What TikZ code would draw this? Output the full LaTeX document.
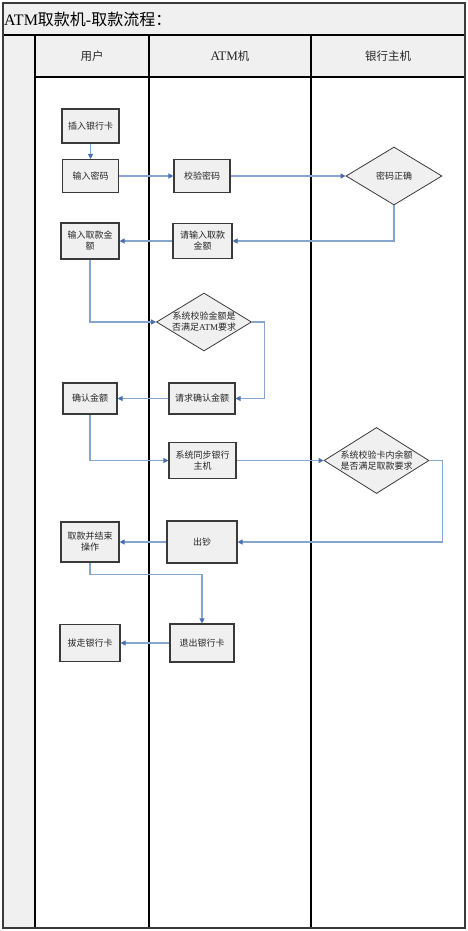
\documentclass[tikz,border=0pt]{standalone}
\usepackage{fontspec}
\setmainfont{Liberation Serif}
\newfontfamily\cjk{Noto Sans CJK SC}
\usetikzlibrary{arrows.meta,shapes.geometric}
\definecolor{panel}{HTML}{F0F0F0}
\definecolor{boxline}{HTML}{3A3A3A}
\definecolor{conn}{HTML}{86A6CF}
\definecolor{tipc}{HTML}{4A6FAE}
\definecolor{txt}{HTML}{262626}
\tikzset{
  stepbox/.style={draw=boxline, line width=1.1pt, fill=panel, align=center, text=txt,
    font=\fontsize{9}{11}\selectfont\cjk, inner sep=1pt},
  decbox/.style={diamond, draw=boxline, line width=0.8pt, fill=panel, inner sep=0pt},
  dectext/.style={align=center, text=txt, font=\fontsize{9}{11}\selectfont\cjk, inner sep=0pt},
  flow/.style={draw=conn, line width=1.1pt, -{Triangle[length=5pt,width=5pt,color=tipc]}},
  lane/.style={draw=black, line width=1.1pt},
  lanetitle/.style={font=\fontsize{11.5}{13}\selectfont, text=txt, inner sep=0pt}
}
\begin{document}
\begin{tikzpicture}[x=1pt,y=-1pt]
\useasboundingbox (0,0) rectangle (468,931);
% panels
\fill[panel] (3,3) rectangle (465,35);
\fill[panel] (35,35) rectangle (465,77);
\fill[panel] (3,35) rectangle (35,928);
% grid lines
\draw[lane] (3,35) -- (465,35);
\draw[lane] (35,77) -- (465,77);
\draw[lane] (35,35) -- (35,928);
\draw[lane] (149,35) -- (149,928);
\draw[lane] (311,35) -- (311,928);
\draw[draw=boxline, line width=1.6pt] (3,3) rectangle (465,928);
% titles
\node[anchor=west, inner sep=0pt, font=\fontsize{16}{18}\selectfont] (title) at (4,19) {ATM{\cjk 取款机}-{\cjk 取款流程：}};
\node[lanetitle] (l1) at (92,56) {\cjk 用户};
\node[lanetitle] (l2) at (230,56) {{\fontsize{13}{15}\selectfont ATM}{\cjk 机}};
\node[lanetitle] (l3) at (388,56) {\cjk 银行主机};
% user lane
\node[stepbox, minimum width=57pt, minimum height=34pt] (a1) at (90.5,126) {插入银行卡};
\node[stepbox, minimum width=56pt, minimum height=33pt] (a2) at (90.5,176) {输入密码};
\node[stepbox, minimum width=58pt, minimum height=36pt] (a3) at (90,241) {输入取款金\\额};
\node[stepbox, minimum width=54pt, minimum height=31pt] (a4) at (90,398.5) {确认金额};
\node[stepbox, minimum width=58pt, minimum height=40pt] (a5) at (90,542) {取款并结束\\操作};
\node[stepbox, minimum width=60pt, minimum height=37pt] (a6) at (90,643) {拔走银行卡};
% ATM lane
\node[stepbox, minimum width=56pt, minimum height=33pt] (b1) at (202,176) {校验密码};
\node[stepbox, minimum width=59pt, minimum height=35pt] (b2) at (202.5,241) {请输入取款\\金额};
\node[decbox, minimum width=95pt, minimum height=58pt] (d2) at (204,322) {};
\node[dectext] (t2) at (d2.center) {系统校验金额是\\否满足{\rmfamily ATM}要求};
\node[stepbox, minimum width=66pt, minimum height=31pt] (b3) at (202,398.5) {请求确认金额};
\node[stepbox, minimum width=67pt, minimum height=36pt] (b4) at (202.5,460.5) {系统同步银行\\主机};
\node[stepbox, minimum width=70pt, minimum height=42pt] (b5) at (202,542) {出钞};
\node[stepbox, minimum width=64pt, minimum height=38pt] (b6) at (202,643) {退出银行卡};
% bank lane
\node[decbox, minimum width=96pt, minimum height=58pt] (d1) at (394,176) {};
\node[dectext] (t1) at (d1.center) {密码正确};
\node[decbox, minimum width=105pt, minimum height=66pt] (d3) at (376.5,460.5) {};
\node[dectext] (t3) at (d3.center) {系统校验卡内余额\\是否满足取款要求};
% connectors
\draw[flow] (a1.south) -- (a2.north);
\draw[flow] (a2.east) -- (b1.west);
\draw[flow] (b1.east) -- (d1.west);
\draw[flow] (d1.south) |- (b2.east);
\draw[flow] (b2.west) -- (a3.east);
\draw[flow] (a3.south) |- (d2.west);
\draw[flow] (d2.east) -- ++(13,0) |- (b3.east);
\draw[flow] (b3.west) -- (a4.east);
\draw[flow] (a4.south) |- (b4.west);
\draw[flow] (b4.east) -- (d3.west);
\draw[flow] (d3.east) -- ++(13,0) |- (b5.east);
\draw[flow] (b5.west) -- (a5.east);
\draw[flow] (a5.south) -- ++(0,12) -| (b6.north);
\draw[flow] (b6.west) -- (a6.east);
\end{tikzpicture}
\end{document}
